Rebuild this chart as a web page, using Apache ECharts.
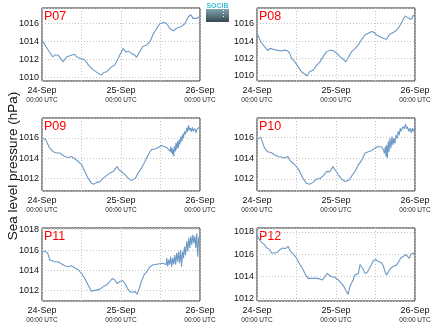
<!DOCTYPE html>
<html><head><meta charset="utf-8">
<script src="https://cdn.jsdelivr.net/npm/echarts@6/dist/echarts.min.js"></script>
<style>html,body{margin:0;padding:0;background:#fff}#c{width:434px;height:327px}</style>
</head><body><div id="c"></div>
<script>
// ---- data (hours since 24-Sep 00:00 UTC, sea level pressure hPa) ----
const panelNames = ['P07','P08','P09','P10','P11','P12'];
const dayLabels = ['24-Sep','25-Sep','26-Sep'];
const dayHours = [0, 24, 48];
const timeLabel = '00:00 UTC';
const yTitle = 'Sea level pressure (hPa)';
const logoText = 'SOCIB';

const p07Hours = [0,1.8,3.3,3.9,4.9,5.9,6.4,7.4,8.9,9.9,10.4,11.5,13.0,14.0,15.5,17.0,18.1,18.6,19.6,20.1,21.1,22.1,23.1,24.1,24.6,25.5,26.2,27.2,28.2,28.7,29.7,30.7,31.7,32.8,33.8,34.8,35.8,36.8,37.8,38.8,39.9,40.9,41.4,42.4,43.4,44.4,45.2,45.9,47.0,48.0];
const p07Values = [1014.2,1013.1,1012.3,1012.55,1012.5,1012.0,1011.75,1012.3,1012.5,1012.6,1012.35,1012.15,1012.0,1011.45,1010.9,1010.5,1010.3,1010.55,1010.65,1010.6,1011.2,1011.4,1012.1,1012.85,1013.25,1012.85,1012.95,1012.7,1012.5,1012.25,1012.9,1013.5,1013.6,1014.0,1014.85,1015.45,1016.0,1016.15,1016.05,1015.5,1015.2,1015.5,1015.3,1015.7,1016.0,1016.75,1017.0,1016.6,1016.6,1016.8];

const p08Hours = [0,0.8,1.3,1.8,2.3,3.3,3.9,4.9,5.9,6.4,7.4,8.4,9.4,9.9,10.5,11.5,12.5,13.5,14.5,15.2,16.0,17.1,18.1,19.1,20.1,21.1,22.1,23.1,24.2,25.2,26.2,27.0,27.7,28.7,29.7,30.8,31.8,32.8,33.8,34.8,35.5,36.3,37.4,38.4,39.4,40.1,40.9,41.9,42.9,44.0,45.0,45.5,46.3,47.0,47.5,48.0];
const p08Values = [1014.9,1014.2,1013.8,1013.85,1013.35,1012.9,1013.15,1013.05,1012.95,1012.75,1012.85,1012.95,1012.85,1012.6,1012.0,1011.6,1011.05,1010.45,1010.2,1010.0,1010.45,1010.65,1011.2,1011.6,1012.2,1012.75,1012.95,1012.9,1012.6,1012.2,1011.9,1011.6,1012.1,1012.75,1013.1,1013.55,1014.2,1014.7,1014.9,1015.1,1015.0,1014.7,1014.5,1014.3,1014.2,1014.7,1014.9,1015.1,1015.45,1016.2,1016.9,1017.0,1016.55,1016.55,1017.0,1016.8];

const p09Hours = [0,0.5,1.1,1.8,2.3,2.8,3.3,3.9,4.4,5.4,5.9,6.9,7.9,8.9,9.4,9.9,11.0,12.0,13.0,14.0,15.0,15.8,16.5,17.6,18.6,19.6,20.6,21.6,22.1,22.8,23.4,24.2,25.2,26.2,27.2,27.7,28.4,29.2,30.2,31.3,32.3,33.3,34.3,35.3,36.3,36.8,37.9,38.4,38.9,39.1,39.3,39.5,39.7,39.9,40.0,40.2,40.5,40.7,40.9,41.2,41.4,41.7,41.9,42.2,42.5,42.8,43.0,43.3,43.6,44.0,44.2,44.5,44.8,45.1,45.4,45.7,46.0,46.4,46.8,47.1,47.5,48.0];
const p09Values = [1016.0,1016.15,1015.85,1015.35,1015.0,1015.05,1014.65,1014.7,1014.5,1014.5,1014.35,1014.15,1014.05,1014.15,1014.25,1013.95,1013.65,1013.35,1012.65,1012.0,1011.5,1011.4,1011.55,1011.65,1012.0,1012.25,1012.5,1012.65,1012.8,1013.15,1012.8,1012.65,1012.35,1012.0,1011.75,1011.6,1012.0,1012.5,1013.0,1013.65,1014.35,1014.85,1014.9,1015.05,1015.25,1015.15,1015.05,1015.0,1014.65,1015.15,1014.5,1015.0,1014.35,1014.85,1014.15,1015.15,1014.65,1015.5,1014.85,1015.65,1015.0,1015.85,1015.35,1016.15,1015.65,1016.4,1016.0,1016.65,1016.35,1017.0,1016.6,1017.25,1016.75,1017.0,1016.6,1017.05,1016.65,1016.95,1016.5,1016.85,1017.0,1017.15];

const p10Hours = [0,0.6,1.1,1.8,2.3,2.8,3.3,4.4,5.4,6.4,7.4,8.4,9.4,9.9,11.0,12.0,13.0,14.0,15.0,16.0,17.1,18.1,19.1,20.1,21.1,21.6,22.1,23.1,23.6,24.7,25.7,26.7,27.2,28.0,29.0,29.7,30.8,31.8,32.8,33.8,34.8,35.8,36.8,37.9,38.4,38.7,39.0,39.2,39.4,39.6,39.9,40.1,40.4,40.7,41.0,41.3,41.6,41.9,42.2,42.6,42.9,43.2,43.5,43.8,44.3,44.7,45.1,45.4,45.7,46.1,46.5,46.9,47.2,47.6,48.0];
const p10Values = [1015.8,1015.9,1016.0,1015.4,1014.95,1015.0,1014.6,1014.5,1014.3,1014.15,1014.1,1014.0,1014.15,1013.8,1013.5,1013.2,1012.7,1012.05,1011.6,1011.5,1011.7,1012.0,1012.05,1012.3,1012.7,1012.55,1012.7,1013.2,1012.9,1012.4,1012.0,1011.75,1011.6,1011.9,1012.4,1012.7,1013.35,1013.8,1014.45,1014.6,1014.7,1014.95,1015.1,1015.05,1014.8,1014.45,1015.1,1014.15,1015.25,1014.0,1015.6,1014.6,1015.9,1014.95,1016.05,1015.25,1015.9,1015.4,1016.2,1015.9,1016.55,1016.2,1016.85,1016.55,1017.0,1016.8,1017.25,1016.8,1017.0,1016.55,1016.85,1016.4,1016.85,1016.55,1017.0];

const p11Hours = [0,0.6,1.0,1.3,1.8,2.3,2.8,3.9,4.9,5.4,6.1,6.9,7.9,8.9,9.4,9.9,11.0,12.0,13.0,14.0,15.0,15.5,16.5,17.6,18.6,19.6,20.6,21.4,22.1,22.8,23.6,24.5,25.2,26.0,26.7,27.5,28.2,28.9,29.5,30.2,31.0,31.8,32.8,33.8,34.8,35.8,36.8,37.4,37.7,37.9,38.2,38.5,38.8,39.1,39.4,39.7,40.0,40.3,40.6,40.9,41.2,41.5,41.8,42.1,42.4,42.7,43.0,43.3,43.6,44.0,44.3,44.6,44.9,45.2,45.5,45.8,46.1,46.4,46.7,47.0,47.3,47.6,48.0];
const p11Values = [1015.8,1015.8,1015.9,1016.0,1015.65,1015.05,1014.95,1014.85,1014.85,1014.7,1014.6,1014.45,1014.35,1014.45,1014.5,1014.25,1014.05,1013.7,1013.2,1012.55,1011.95,1011.9,1012.05,1012.15,1012.4,1012.55,1012.9,1013.2,1013.05,1012.7,1012.9,1013.0,1012.7,1012.2,1011.9,1011.85,1011.9,1011.65,1012.2,1012.9,1013.55,1013.85,1014.35,1014.55,1014.6,1014.65,1014.7,1014.85,1014.55,1015.2,1014.35,1015.05,1014.55,1015.35,1014.35,1015.2,1014.6,1015.5,1014.55,1015.7,1014.85,1015.85,1014.7,1016.0,1014.35,1015.85,1015.2,1016.35,1015.5,1016.85,1015.85,1017.2,1016.2,1017.35,1016.5,1017.5,1016.7,1017.35,1016.2,1017.65,1015.35,1017.2,1017.5];

const p12Hours = [0,0.5,1.0,1.6,2.3,2.8,3.3,3.9,4.4,4.9,5.6,6.4,6.9,7.9,8.7,9.4,10.2,11.0,12.0,13.0,14.0,14.8,15.5,16.0,17.1,18.1,19.1,19.9,20.6,21.3,21.9,22.6,23.6,24.7,25.7,26.4,27.2,27.7,28.2,28.7,29.2,29.7,30.2,30.8,31.3,31.8,32.3,32.8,33.5,34.1,34.8,35.3,36.0,36.8,37.9,38.4,38.9,39.4,39.9,40.6,41.4,42.4,43.1,43.7,44.5,45.2,45.7,46.3,46.8,47.5,48.0];
const p12Values = [1017.75,1017.45,1017.15,1017.0,1016.85,1016.6,1016.55,1016.4,1016.1,1016.0,1016.1,1016.2,1016.4,1016.55,1016.5,1016.7,1016.25,1016.0,1015.65,1015.05,1014.6,1014.1,1013.8,1013.95,1013.8,1013.8,1013.75,1013.65,1013.95,1014.25,1014.2,1013.95,1013.9,1013.65,1013.35,1013.05,1012.6,1012.35,1013.05,1013.35,1013.65,1014.1,1013.95,1014.25,1015.05,1015.05,1014.6,1014.25,1014.35,1014.25,1015.05,1015.4,1015.5,1015.35,1015.2,1014.9,1014.4,1014.1,1014.4,1014.7,1014.9,1015.0,1015.35,1015.65,1015.8,1015.95,1015.8,1015.6,1016.0,1016.1,1016.0];

const panelHours = [p07Hours, p08Hours, p09Hours, p10Hours, p11Hours, p12Hours];
const panelValues = [p07Values, p08Values, p09Values, p10Values, p11Values, p12Values];
const yMins = [1009.63, 1009.39, 1010.72, 1010.85, 1010.98, 1011.75];
const yMaxs = [1017.75, 1017.81, 1017.98, 1017.83, 1018.17, 1018.36];

// ---- layout ----
const lefts = [42, 257];
const tops = [8, 118, 228];
const W = 158, H = 73;
const FONT = '"Liberation Sans", Arial, Helvetica, sans-serif';
const lineColor = '#6d99c6';

const grids = [], xAxes = [], yAxes = [], series = [], graphics = [];
panelNames.forEach((name, i) => {
  const col = i % 2, row = Math.floor(i / 2);
  grids.push({left: lefts[col], top: tops[row], width: W, height: H, show: true,
    borderColor: '#2a2a2a', borderWidth: 1, backgroundColor: 'transparent', containLabel: false});
  xAxes.push({type: 'value', gridIndex: i, min: 0, max: 48, interval: 12,
    axisLine: {show: false}, axisTick: {show: false},
    splitLine: {show: true, lineStyle: {color: '#c4c4c4', type: [1, 2], width: 1}},
    axisLabel: {margin: 5, color: '#111', fontFamily: FONT,
      showMinLabel: true, showMaxLabel: true,
      formatter: v => { const k = dayHours.indexOf(v); return k < 0 ? '' : '{d|' + dayLabels[k] + '}\n{u|' + timeLabel + '}'; },
      rich: {d: {fontSize: 9, lineHeight: 10, color: '#111', fontFamily: FONT},
             u: {fontSize: 6.5, lineHeight: 9, color: '#222', fontFamily: FONT}}}});
  const lo = yMins[i], hi = yMaxs[i];
  yAxes.push({type: 'value', gridIndex: i, min: lo, max: hi, minInterval: 2, maxInterval: 2,
    axisLine: {show: false}, axisTick: {show: false},
    splitLine: {show: true, lineStyle: {color: '#c4c4c4', type: [1, 2], width: 1}},
    axisLabel: {margin: 3, fontSize: 9, color: '#111', fontFamily: FONT,
      formatter: v => (v >= lo - 1e-9 && v <= hi + 1e-9 && Math.abs(v / 2 - Math.round(v / 2)) < 1e-6 ? String(Math.round(v)) : '')}});
  series.push({type: 'line', xAxisIndex: i, yAxisIndex: i, showSymbol: false, symbol: 'none',
    animation: false, clip: true,
    lineStyle: {color: lineColor, width: 1.1},
    data: panelHours[i].map((h, k) => [h, panelValues[i][k]])});
  graphics.push({type: 'text', left: lefts[col] + 2, top: tops[row] + 2,
    style: {text: name, fill: '#ff0000', font: '12.5px ' + FONT}});
});

graphics.push({type: 'text', x: 13, y: 166, rotation: Math.PI / 2,
  style: {text: yTitle, fill: '#111', font: '13.5px ' + FONT, align: 'center', verticalAlign: 'middle'}});
graphics.push({type: 'rect', shape: {x: 206, y: 9, width: 23, height: 13},
  style: {fill: new echarts.graphic.LinearGradient(0, 0, 0, 1, [{offset: 0, color: '#7fa6b2'}, {offset: 1, color: '#37474f'}])}});
graphics.push({type: 'line', shape: {x1: 223.5, y1: 10, x2: 223.5, y2: 19},
  style: {stroke: '#ffffff', lineWidth: 1, lineDash: [1, 2]}});
graphics.push({type: 'text', x: 217.5, y: 6.5,
  style: {text: logoText, fill: '#40c0d4', font: 'bold 7px ' + FONT, align: 'center', verticalAlign: 'middle'}});

const chart = echarts.init(document.getElementById('c'), null, {renderer: 'canvas'});
chart.setOption({animation: false, backgroundColor: '#fff', grid: grids, xAxis: xAxes, yAxis: yAxes, series: series, graphic: graphics});
</script></body></html>
